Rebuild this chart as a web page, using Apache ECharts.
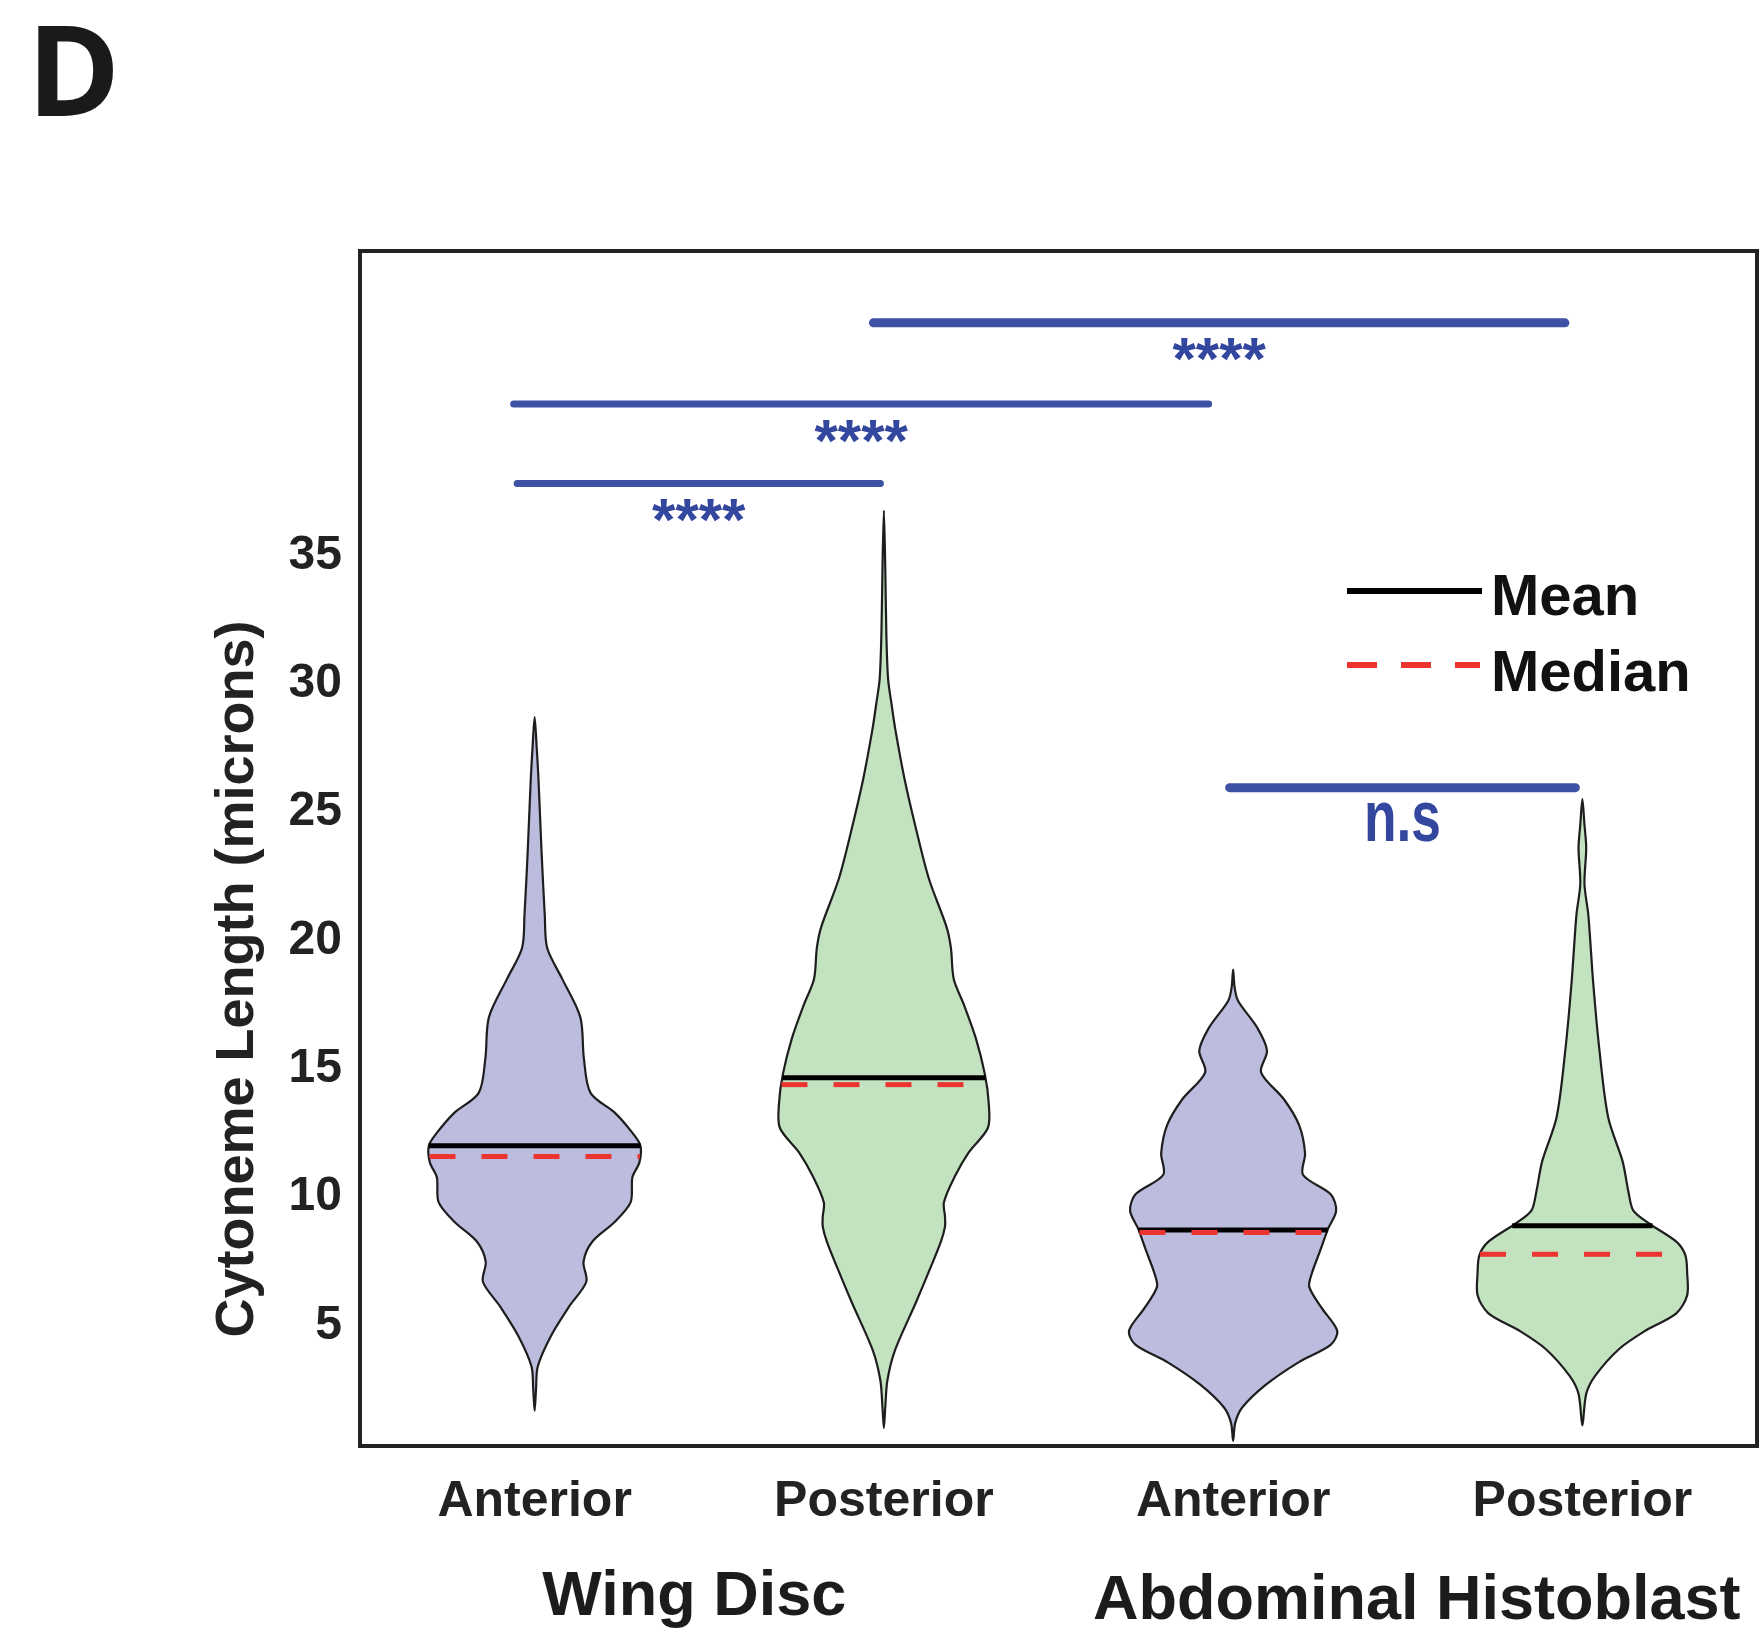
<!DOCTYPE html>
<html>
<head>
<meta charset="utf-8">
<script src="https://cdn.jsdelivr.net/npm/echarts@6/dist/echarts.min.js"></script>
<style>
  html, body { margin: 0; padding: 0; background: #fff; }
  #chart { width: 1760px; height: 1635px; }
</style>
</head>
<body>
<div id="chart"></div>
<script>
// categories and group labels
const categories = ['Anterior', 'Posterior', 'Anterior', 'Posterior']
const groups = ['Wing Disc', 'Abdominal Histoblast']
const yTicks = [5, 10, 15, 20, 25, 30, 35]

// mean / median per violin
const meanValues = [12.0, 14.65, 8.72, 8.88]
const medianValues = [11.58, 14.38, 8.62, 7.77]

// violin outlines: length values and half width (share of the category band)
const wingAntY = [28.7, 27.5, 26.3, 23.4, 21.0, 19.7, 18.5, 17.0, 15.4, 14.06, 13.28, 12.5, 12.0, 11.35, 10.77, 9.8, 9.04, 8.26, 7.48, 6.7, 5.72, 4.57, 3.4, 2.5, 1.67]
const wingAntW = [0, 0.006, 0.011, 0.02, 0.029, 0.036, 0.079, 0.131, 0.141, 0.16, 0.23, 0.28, 0.303, 0.30, 0.28, 0.275, 0.23, 0.165, 0.14, 0.148, 0.098, 0.046, 0.009, 0.004, 0]
const wingPostY = [36.75, 34.5, 32.0, 30.2, 29.2, 28.2, 26.3, 24.35, 22.4, 20.5, 19.7, 18.5, 17.5, 16.2, 14.8, 13.7, 12.7, 11.74, 10.8, 9.8, 9.23, 8.85, 8.25, 7.3, 5.9, 4.0, 2.85, 1.8, 1.0]
const wingPostW = [0, 0.004, 0.007, 0.012, 0.022, 0.033, 0.059, 0.092, 0.129, 0.18, 0.192, 0.20, 0.229, 0.263, 0.289, 0.30, 0.298, 0.243, 0.203, 0.172, 0.175, 0.175, 0.163, 0.135, 0.092, 0.031, 0.01, 0.004, 0]
const abdAntY = [18.86, 18.2, 17.65, 16.6, 15.7, 14.86, 13.8, 12.8, 11.7, 10.87, 10.1, 9.46, 8.77, 7.9, 7.05, 6.5, 5.65, 4.79, 4.25, 3.55, 2.69, 1.8, 1.2, 0.5]
const abdAntW = [0, 0.004, 0.014, 0.069, 0.097, 0.08, 0.146, 0.189, 0.206, 0.20, 0.28, 0.295, 0.272, 0.249, 0.226, 0.218, 0.255, 0.298, 0.28, 0.186, 0.094, 0.026, 0.006, 0]
const abdPostY = [25.5, 24.5, 23.6, 22.2, 21.0, 18.35, 15.7, 13.1, 11.4, 10.2, 9.47, 8.96, 8.26, 7.73, 7.05, 6.17, 5.47, 4.79, 4.09, 3.04, 2.33, 1.1]
const abdPostW = [0, 0.006, 0.011, 0.006, 0.017, 0.031, 0.049, 0.074, 0.115, 0.132, 0.146, 0.192, 0.269, 0.295, 0.30, 0.30, 0.269, 0.18, 0.106, 0.037, 0.011, 0]

// significance brackets (category positions) and labels
const sigFrom = [0.97, -0.06, -0.05, 1.99]
const sigTo = [2.95, 1.93, 0.99, 2.98]
const sigLevel = [44.06, 40.9, 37.8, 25.95]
const sigText = ['****', '****', '****', 'n.s']

const violinY = [wingAntY, wingPostY, abdAntY, abdPostY]
const violinW = [wingAntW, wingPostW, abdAntW, abdPostW]
const fills = ['#bcbcde', '#c3e2c0', '#bcbcde', '#c3e2c0']
const FONT = '"Liberation Sans", Arial, sans-serif'

// half width of violin i at value v
function widthAt(i, v) {
  const ys = violinY[i], ws = violinW[i]
  for (let k = 0; k < ys.length - 1; k++) {
    if (v <= ys[k] && v >= ys[k + 1]) {
      const t = (ys[k] - v) / (ys[k] - ys[k + 1])
      return ws[k] + t * (ws[k + 1] - ws[k])
    }
  }
  return 0
}

function renderViolin(params, api) {
  const i = params.dataIndex
  const ys = violinY[i], ws = violinW[i]
  const band = api.size([1, 0])[0]
  const cx = api.coord([i, 0])[0]
  const right = [], left = []
  for (let k = 0; k < ys.length; k++) {
    const y = api.coord([i, ys[k]])[1]
    right.push([cx + ws[k] * band, y])
    if (k > 0 && k < ys.length - 1) left.unshift([cx - ws[k] * band, y])
  }
  return {
    type: 'polygon',
    shape: { points: right.concat(left), smooth: 0.3 },
    style: { fill: fills[i], stroke: '#1e1e1e', lineWidth: 2.2 }
  }
}

function levelRenderer(values, color, width, dash) {
  return function (params, api) {
    const i = params.dataIndex
    const band = api.size([1, 0])[0]
    const p = api.coord([i, values[i]])
    const hw = widthAt(i, values[i]) * band
    return {
      type: 'line',
      shape: { x1: p[0] - hw, y1: p[1], x2: p[0] + hw, y2: p[1] },
      style: { stroke: color, lineWidth: width, lineDash: dash }
    }
  }
}

function renderSig(params, api) {
  const i = params.dataIndex
  const band = api.size([1, 0])[0]
  const base = api.coord([0, sigLevel[i]])
  const x1 = base[0] + sigFrom[i] * band
  const x2 = base[0] + sigTo[i] * band
  const isStar = sigText[i] !== 'n.s'
  return {
    type: 'group',
    children: [
      {
        type: 'line',
        shape: { x1: x1, y1: base[1], x2: x2, y2: base[1] },
        style: { stroke: '#3f51a5', lineWidth: (i === 0 || i === 3) ? 9 : 7, lineCap: 'round' }
      },
      {
        type: 'text',
        x: (x1 + x2) / 2,
        y: base[1] + (isStar ? 40 : 33),
        scaleX: isStar ? 1 : 0.74,
        style: {
          text: sigText[i],
          fill: '#34479f',
          fontSize: isStar ? 60 : 72,
          fontWeight: 'bold',
          fontFamily: FONT,
          align: 'center',
          verticalAlign: 'middle'
        }
      }
    ]
  }
}

const chart = echarts.init(document.getElementById('chart'), null, { renderer: 'canvas' })

const option = {
  animation: false,
  backgroundColor: '#ffffff',
  grid: {
    left: 360, right: 3, top: 251, bottom: 189,
    show: true, borderColor: '#222', borderWidth: 4,
    backgroundColor: 'transparent',
    outerBoundsMode: 'none'
  },
  xAxis: [
    {
      type: 'category',
      data: categories,
      axisLine: { show: false },
      axisTick: { show: false },
      splitLine: { show: false },
      axisLabel: { interval: 0, margin: 31, fontSize: 50, fontWeight: 'bold', color: '#222', fontFamily: FONT }
    },
    {
      type: 'category',
      data: groups,
      position: 'bottom',
      axisLine: { show: false },
      axisTick: { show: false },
      splitLine: { show: false },
      axisLabel: {
        interval: 0,
        margin: 120,
        formatter: function (v, idx) { return idx === 0 ? '{a|' + v + '}' : '{b|' + v + '}' },
        rich: {
          a: { fontSize: 63, fontWeight: 'bold', color: '#1c1c1c', fontFamily: FONT, padding: [0, 30, 0, 0] },
          b: { fontSize: 63, fontWeight: 'bold', color: '#1c1c1c', fontFamily: FONT, padding: [4, 0, 0, 18] }
        }
      }
    }
  ],
  yAxis: {
    type: 'value',
    min: 0.3,
    max: 46.86,
    axisLine: { show: false },
    axisTick: { show: false },
    splitLine: { show: false },
    axisLabel: { customValues: yTicks, margin: 18, padding: [7, 0, 0, 0], fontSize: 48, fontWeight: 'bold', color: '#222', fontFamily: FONT }
  },
  series: [
    {
      name: 'violin',
      type: 'custom',
      renderItem: renderViolin,
      encode: { x: 0, y: 1 },
      data: meanValues.map(function (m, i) { return [i, m] }),
      z: 2
    },
    {
      name: 'Mean',
      type: 'custom',
      renderItem: levelRenderer(meanValues, '#000000', 5, null),
      encode: { x: 0, y: 1 },
      data: meanValues.map(function (m, i) { return [i, m] }),
      z: 3
    },
    {
      name: 'Median',
      type: 'custom',
      renderItem: levelRenderer(medianValues, '#ec3530', 5, [26, 26]),
      encode: { x: 0, y: 1 },
      data: medianValues.map(function (m, i) { return [i, m] }),
      z: 4
    },
    {
      name: 'significance',
      type: 'custom',
      renderItem: renderSig,
      encode: { x: 0, y: 1 },
      data: sigLevel.map(function (v, i) { return [0, v] }),
      clip: false,
      z: 5
    }
  ],
  graphic: [
    {
      type: 'text', x: 27, y: 80,
      style: { text: 'D', font: 'bold 126px "Open Sans", sans-serif', fill: '#1a1a1a', align: 'left', verticalAlign: 'middle' }
    },
    {
      type: 'text', x: 238, y: 979, rotation: Math.PI / 2,
      style: { text: 'Cytoneme Length (microns)', font: 'bold 54px ' + FONT, fill: '#222', align: 'center', verticalAlign: 'middle' }
    },
    {
      type: 'line', shape: { x1: 1347, y1: 591, x2: 1482, y2: 591 },
      style: { stroke: '#000', lineWidth: 6 }
    },
    {
      type: 'text', x: 1491, y: 599,
      style: { text: 'Mean', font: 'bold 58px ' + FONT, fill: '#111', align: 'left', verticalAlign: 'middle' }
    },
    {
      type: 'line', shape: { x1: 1347, y1: 665, x2: 1480, y2: 665 },
      style: { stroke: '#ec3530', lineWidth: 6, lineDash: [30, 24] }
    },
    {
      type: 'text', x: 1491, y: 675,
      style: { text: 'Median', font: 'bold 58px ' + FONT, fill: '#111', align: 'left', verticalAlign: 'middle' }
    }
  ]
}

chart.setOption(option)
</script>
</body>
</html>
